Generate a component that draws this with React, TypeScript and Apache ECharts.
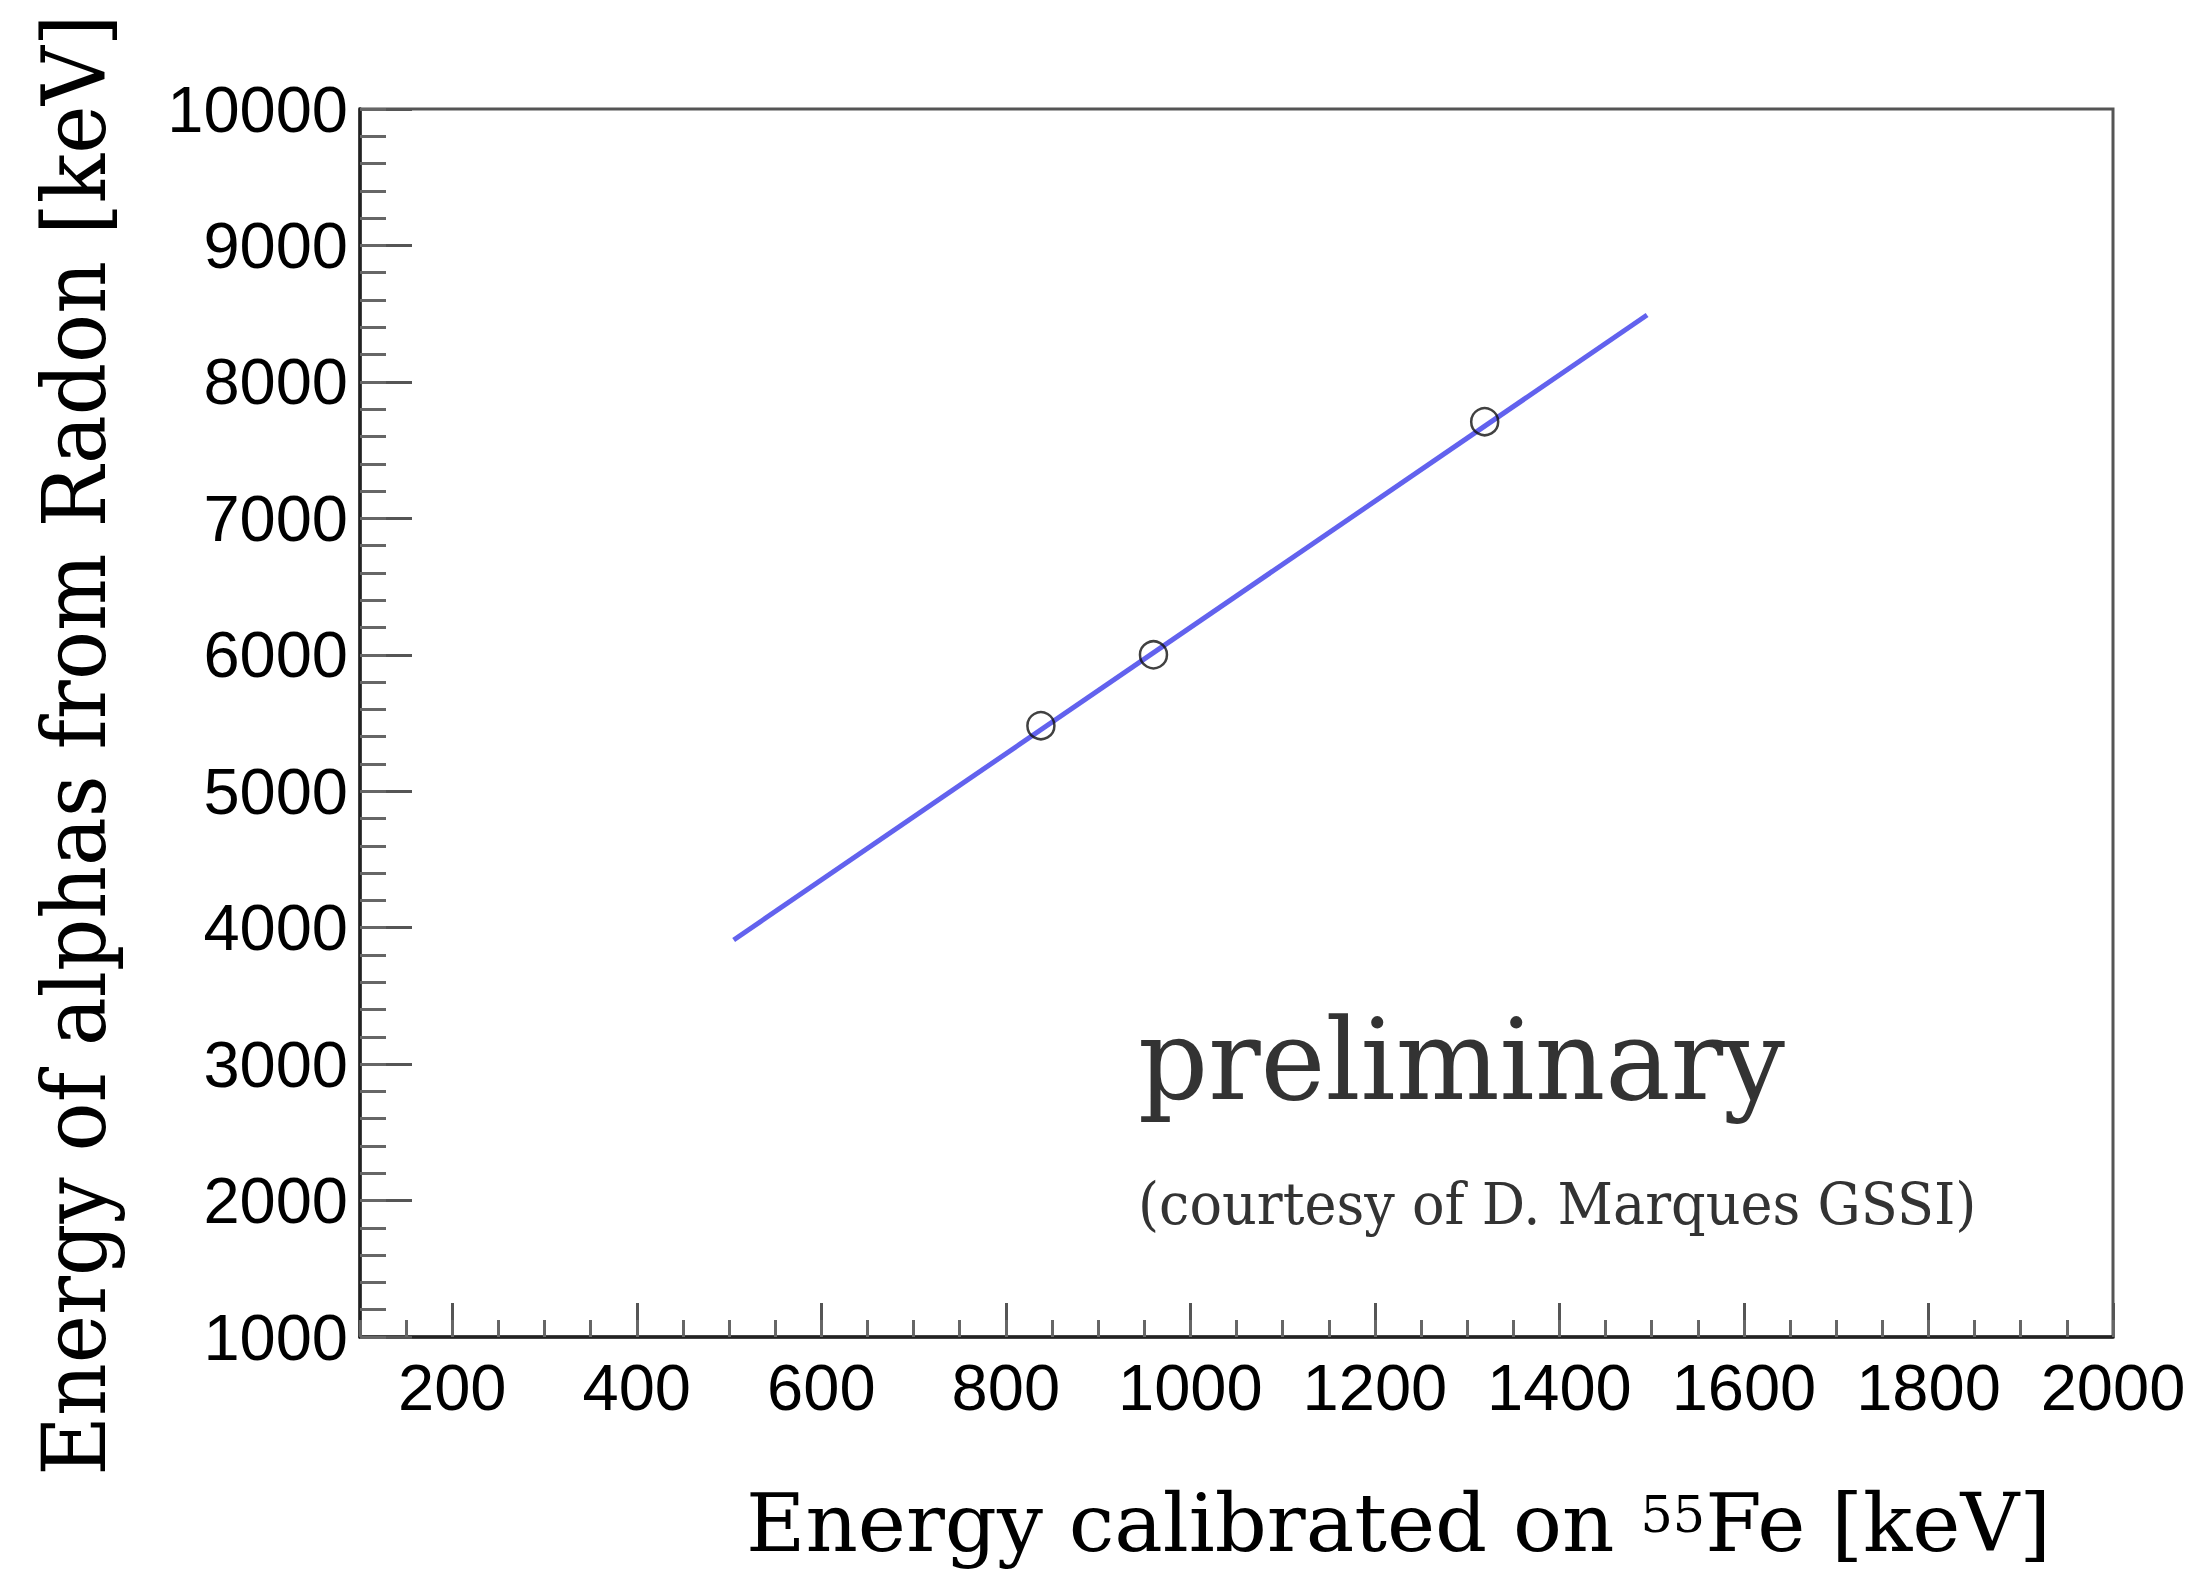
import React, { useEffect, useRef } from "react";
import * as echarts from "echarts";

// ---- data ----
const xTickLabels = [200, 400, 600, 800, 1000, 1200, 1400, 1600, 1800, 2000];
const pointX = [838, 960, 1319];
const pointY = [5480, 6000, 7708];
const fitX = [505, 1495];
const fitY = [3910, 8490];

const yTitle = "Energy of alphas from Radon [keV]";
const xTitleMain = "Energy calibrated on ";
const xTitleSup = "55";
const xTitleEnd = "Fe [keV]";
const prelimText = "preliminary";
const courtesyText = "(courtesy of D. Marques GSSI)";

const SERIF = "DejaVu Serif";
const SANS = "Liberation Sans";

function measure(text: string, size: number, family: string): number {
  const c = document.createElement("canvas").getContext("2d") as CanvasRenderingContext2D;
  c.font = `${size}px ${family}`;
  return c.measureText(text).width;
}

const plain = (v: number) => String(v);

export default function App() {
  const ref = useRef<HTMLDivElement>(null);
  useEffect(() => {
    if (!ref.current) return;
    const chart = echarts.init(ref.current, undefined, { renderer: "svg" });

    const yTitleSize = 88;
    const yTitleScale = 1461 / measure(yTitle, yTitleSize, SERIF);

    const xtSize = 80;
    const supSize = 50;
    const w1 = measure(xTitleMain, xtSize, SERIF);
    const w2 = measure(xTitleSup, supSize, SERIF);
    const w3 = measure(xTitleEnd, xtSize, SERIF);
    const xTitleScale = 1305 / (w1 + w2 + w3);

    const prelimSize = 112;
    const prelimScale = 647 / measure(prelimText, prelimSize, SERIF);
    const courtSize = 58;
    const courtScale = 839 / measure(courtesyText, courtSize, SERIF);

    const fitData = fitX.map((x, i) => [x, fitY[i]]);
    const pointData = pointX.map((x, i) => [x, pointY[i]]);

    chart.setOption({
      animation: false,
      backgroundColor: "#ffffff",
      grid: {
        left: 360,
        right: 85,
        top: 109,
        bottom: 234,
        show: true,
        borderColor: "#555",
        borderWidth: 3,
        backgroundColor: "transparent",
      },
      xAxis: [
        {
          type: "value",
          min: 100,
          max: 2000,
          position: "bottom",
          axisLine: { show: true, onZero: false, lineStyle: { color: "#222", width: 3.5 } },
          axisTick: {
            show: true,
            inside: true,
            length: 34,
            customValues: xTickLabels,
            lineStyle: { color: "#555", width: 3 },
          },
          axisLabel: {
            customValues: xTickLabels,
            formatter: plain,
            fontSize: 65,
            fontFamily: SANS,
            color: "#000",
            margin: 18,
          },
          splitLine: { show: false },
        },
        {
          type: "value",
          min: 100,
          max: 2000,
          interval: 50,
          position: "bottom",
          axisLine: { show: false, onZero: false },
          axisTick: { show: true, inside: true, length: 17, lineStyle: { color: "#666", width: 3 } },
          axisLabel: { show: false },
          splitLine: { show: false },
        },
      ],
      yAxis: [
        {
          type: "value",
          min: 1000,
          max: 10000,
          interval: 1000,
          position: "left",
          axisLine: { show: true, onZero: false, lineStyle: { color: "#222", width: 3.5 } },
          axisTick: { show: true, inside: true, length: 52, lineStyle: { color: "#555", width: 3 } },
          axisLabel: { formatter: plain, fontSize: 65, fontFamily: SANS, color: "#000", margin: 12 },
          splitLine: { show: false },
        },
        {
          type: "value",
          min: 1000,
          max: 10000,
          interval: 200,
          position: "left",
          axisLine: { show: false, onZero: false },
          axisTick: { show: true, inside: true, length: 26, lineStyle: { color: "#666", width: 3 } },
          axisLabel: { show: false },
          splitLine: { show: false },
        },
      ],
      series: [
        {
          type: "line",
          xAxisIndex: 0,
          yAxisIndex: 0,
          data: fitData,
          showSymbol: false,
          lineStyle: { color: "#6262ee", width: 5 },
          z: 2,
        },
        {
          type: "scatter",
          xAxisIndex: 0,
          yAxisIndex: 0,
          data: pointData,
          symbol: "circle",
          symbolSize: 27,
          itemStyle: { color: "rgba(0,0,0,0)", borderColor: "#111", borderWidth: 2.5 },
          z: 3,
        },
      ],
      graphic: [
        {
          type: "text",
          x: 74,
          y: 745,
          rotation: Math.PI / 2,
          scaleX: yTitleScale,
          style: {
            text: yTitle,
            fontSize: yTitleSize,
            fontFamily: SERIF,
            fill: "#000",
            textAlign: "center",
            textVerticalAlign: "middle",
          },
        },
        {
          type: "group",
          x: 746,
          y: 1523,
          scaleX: xTitleScale,
          children: [
            {
              type: "text",
              x: 0,
              y: 0,
              style: {
                text: xTitleMain,
                fontSize: xtSize,
                fontFamily: SERIF,
                fill: "#000",
                textAlign: "left",
                textVerticalAlign: "middle",
              },
            },
            {
              type: "text",
              x: w1,
              y: -8,
              style: {
                text: xTitleSup,
                fontSize: supSize,
                fontFamily: SERIF,
                fill: "#000",
                textAlign: "left",
                textVerticalAlign: "middle",
              },
            },
            {
              type: "text",
              x: w1 + w2,
              y: 0,
              style: {
                text: xTitleEnd,
                fontSize: xtSize,
                fontFamily: SERIF,
                fill: "#000",
                textAlign: "left",
                textVerticalAlign: "middle",
              },
            },
          ],
        },
        {
          type: "text",
          x: 1138,
          y: 1060,
          scaleX: prelimScale,
          style: {
            text: prelimText,
            fontSize: prelimSize,
            fontFamily: SERIF,
            fill: "#333",
            textAlign: "left",
            textVerticalAlign: "middle",
          },
        },
        {
          type: "text",
          x: 1138,
          y: 1204,
          scaleX: courtScale,
          style: {
            text: courtesyText,
            fontSize: courtSize,
            fontFamily: SERIF,
            fill: "#333",
            textAlign: "left",
            textVerticalAlign: "middle",
          },
        },
      ],
    });
    return () => chart.dispose();
  }, []);
  return (
    <div
      ref={ref}
      style={{ position: "fixed", left: 0, top: 0, width: 2198, height: 1571, background: "#fff" }}
    />
  );
}
